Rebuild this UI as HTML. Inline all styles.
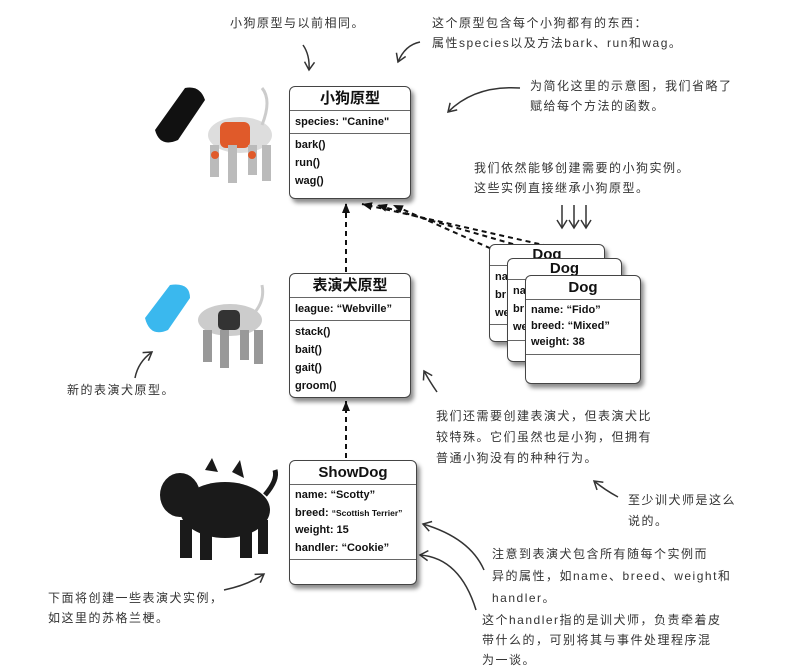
<!DOCTYPE html>
<html><head><meta charset="utf-8"><style>
body{margin:0;width:795px;height:671px;background:#fff;position:relative;overflow:hidden;font-family:"Liberation Sans","Noto Sans CJK SC",sans-serif;}
.box{position:absolute;background:#fff;border:1.5px solid #444;border-radius:6px;box-shadow:3px 4px 4px rgba(0,0,0,0.45);font-weight:bold;color:#111;white-space:nowrap;overflow:hidden;}
.hd{text-align:center;font-size:15px;border-bottom:1px solid #666;}
.sec{border-bottom:1px solid #666;font-size:11px;padding:2px 5px;line-height:18px;}
.mt{font-size:11px;padding:2px 5px;line-height:18px;}
.note{position:absolute;font-size:12px;color:#333;line-height:20px;letter-spacing:1.5px;font-family:"Liberation Sans","WenQuanYi Zen Hei",sans-serif;white-space:nowrap;}
</style></head><body>
<svg width="795" height="671" style="position:absolute;left:0;top:0">
<defs><marker id="a" markerUnits="userSpaceOnUse" markerWidth="12" markerHeight="12" refX="10" refY="6" orient="auto"><path d="M0,2 L10,6 L0,10 z" fill="#111"/></marker>
<marker id="o" markerUnits="userSpaceOnUse" markerWidth="14" markerHeight="14" refX="10" refY="7" orient="auto"><path d="M2,2 L10,7 L2,12" fill="none" stroke="#333" stroke-width="1.5"/></marker></defs>
<g stroke="#111" stroke-width="2" stroke-dasharray="5,4" fill="none">
<line x1="346" y1="272" x2="346" y2="203" marker-end="url(#a)"/>
<line x1="346" y1="458" x2="346" y2="401" marker-end="url(#a)"/>
<line x1="548" y1="246" x2="362" y2="204" marker-end="url(#a)"/>
<line x1="565" y1="259" x2="377" y2="205" marker-end="url(#a)"/>
<line x1="548" y1="274" x2="393" y2="205" marker-end="url(#a)"/>
</g>
<g stroke="#333" stroke-width="1.5" fill="none">
<path d="M303,45 Q310,55 309,70" marker-end="url(#o)"/>
<path d="M420,42 Q405,45 398,62" marker-end="url(#o)"/>
<path d="M520,88 Q475,85 448,112" marker-end="url(#o)"/>
<path d="M562,205 L562,228" marker-end="url(#o)"/>
<path d="M574,205 L574,228" marker-end="url(#o)"/>
<path d="M586,205 L586,228" marker-end="url(#o)"/>
<path d="M437,392 Q430,382 424,371" marker-end="url(#o)"/>
<path d="M618,497 Q605,490 594,481" marker-end="url(#o)"/>
<path d="M484,570 Q470,538 423,524" marker-end="url(#o)"/>
<path d="M476,610 Q460,558 420,555" marker-end="url(#o)"/>
<path d="M135,378 Q138,362 152,352" marker-end="url(#o)"/>
<path d="M224,590 Q248,585 264,574" marker-end="url(#o)"/>
</g>
<g>
<path d="M155,130 L185,88 Q200,85 205,100 L178,140 Q160,148 155,130z" fill="#111"/>
<ellipse cx="240" cy="135" rx="32" ry="18" fill="#ddd"/>
<rect x="220" y="122" width="30" height="26" fill="#e05a2a" rx="6"/>
<path d="M262,125 Q272,100 262,88" stroke="#ccc" stroke-width="3" fill="none"/>
<rect x="210" y="145" width="9" height="32" fill="#bbb"/><rect x="228" y="145" width="9" height="38" fill="#bbb"/>
<rect x="248" y="145" width="9" height="30" fill="#bbb"/><rect x="262" y="145" width="9" height="36" fill="#bbb"/>
<circle cx="215" cy="155" r="4" fill="#e05a2a"/><circle cx="252" cy="155" r="4" fill="#e05a2a"/>
</g>
<g>
<path d="M145,318 L170,285 Q190,282 190,298 L168,330 Q150,338 145,318z" fill="#3ab8ee"/>
<ellipse cx="230" cy="320" rx="32" ry="16" fill="#ccc"/>
<rect x="218" y="310" width="22" height="20" fill="#333" rx="5"/>
<path d="M255,312 Q265,300 262,285" stroke="#ccc" stroke-width="3" fill="none"/>
<rect x="203" y="330" width="9" height="32" fill="#999"/><rect x="220" y="330" width="9" height="38" fill="#999"/>
<rect x="240" y="330" width="9" height="30" fill="#999"/><rect x="254" y="330" width="9" height="34" fill="#999"/>
</g>
<g fill="#1a1a1a">
<ellipse cx="225" cy="510" rx="45" ry="28"/>
<ellipse cx="180" cy="495" rx="20" ry="22"/>
<path d="M205,470 L212,458 L218,472z M232,472 L240,460 L244,478z"/>
<rect x="180" y="520" width="12" height="38"/><rect x="200" y="525" width="12" height="35"/>
<rect x="240" y="522" width="12" height="36"/><rect x="258" y="520" width="10" height="34"/>
<path d="M265,495 Q278,480 275,470" stroke="#1a1a1a" stroke-width="5" fill="none"/>
</g>
</svg>

<div class="box" style="left:289px;top:86px;width:120px;height:111px">
<div class="hd" style="height:23px;line-height:23px">小狗原型</div>
<div class="sec" style="height:18px">species: "Canine"</div>
<div class="mt">bark()<br>run()<br>wag()</div></div>

<div class="box" style="left:289px;top:273px;width:120px;height:123px">
<div class="hd" style="height:23px;line-height:23px">表演犬原型</div>
<div class="sec" style="height:18px">league: “Webville”</div>
<div class="mt">stack()<br>bait()<br>gait()<br>groom()</div></div>

<div class="box" style="left:489px;top:244px;width:114px;height:96px">
<div class="hd" style="height:20px;line-height:20px">Dog</div>
<div class="sec" style="height:54px">na<br>br<br>we</div></div>
<div class="box" style="left:507px;top:258px;width:113px;height:102px">
<div class="hd" style="height:20px;line-height:20px">Dog</div>
<div class="sec" style="height:56px">na<br>br<br>we</div></div>
<div class="box" style="left:525px;top:275px;width:114px;height:107px">
<div class="hd" style="height:23px;line-height:23px">Dog</div>
<div class="sec" style="height:50px;line-height:16px">name: “Fido”<br>breed: “Mixed”<br>weight: 38</div></div>

<div class="box" style="left:289px;top:460px;width:126px;height:123px">
<div class="hd" style="height:23px;line-height:23px">ShowDog</div>
<div class="sec" style="height:70px;line-height:17.5px">name: “Scotty”<br>breed: <span style="font-size:8.5px">“Scottish Terrier”</span><br>weight: 15<br>handler: “Cookie”</div></div>

<div class="note" style="left:230px;top:13px">小狗原型与以前相同。</div>
<div class="note" style="left:432px;top:13px">这个原型包含每个小狗都有的东西：<br>属性species以及方法bark、run和wag。</div>
<div class="note" style="left:530px;top:76px">为简化这里的示意图，我们省略了<br>赋给每个方法的函数。</div>
<div class="note" style="left:474px;top:158px">我们依然能够创建需要的小狗实例。<br>这些实例直接继承小狗原型。</div>
<div class="note" style="left:67px;top:380px">新的表演犬原型。</div>
<div class="note" style="left:436px;top:406px;line-height:21px">我们还需要创建表演犬，但表演犬比<br>较特殊。它们虽然也是小狗，但拥有<br>普通小狗没有的种种行为。</div>
<div class="note" style="left:628px;top:490px;line-height:21px">至少训犬师是这么<br>说的。</div>
<div class="note" style="left:492px;top:543px;line-height:22px">注意到表演犬包含所有随每个实例而<br>异的属性，如name、breed、weight和<br>handler。</div>
<div class="note" style="left:482px;top:610px;line-height:20px">这个handler指的是训犬师，负责牵着皮<br>带什么的，可别将其与事件处理程序混<br>为一谈。</div>
<div class="note" style="left:48px;top:588px">下面将创建一些表演犬实例，<br>如这里的苏格兰梗。</div>
</body></html>
